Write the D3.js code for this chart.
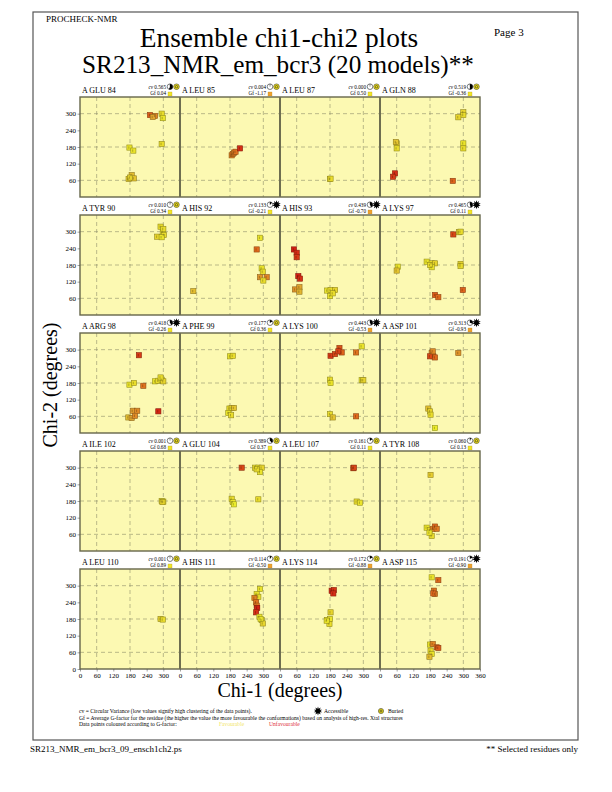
<!DOCTYPE html>
<html><head><meta charset="utf-8">
<script src="https://cdn.jsdelivr.net/npm/d3@7"></script>
<style>body{margin:0;background:#fff}svg{display:block}</style>
</head><body><svg id="c" width="612" height="792" font-family="Liberation Serif"></svg>
<script>
// ---- data ----
const residues = ["A GLU 84","A LEU 85","A LEU 87","A GLN 88",
  "A TYR 90","A HIS 92","A HIS 93","A LYS 97",
  "A ARG 98","A PHE 99","A LYS 100","A ASP 101",
  "A ILE 102","A GLU 104","A LEU 107","A TYR 108",
  "A LEU 110","A HIS 111","A LYS 114","A ASP 115"];
const cvValues = [0.565,0.004,0.000,0.519, 0.010,0.133,0.439,0.465, 0.418,0.177,0.443,0.313, 0.001,0.389,0.161,0.060, 0.001,0.114,0.172,0.191];
const gfValues = [0.04,-1.17,0.50,-0.36, 0.34,-0.21,-0.70,0.11, -0.26,0.36,-0.53,-0.93, 0.68,0.37,0.11,0.13, 0.89,-0.50,-0.88,-0.90];
const accessible = [false,false,false,false, false,true,true,true, true,false,true,true, false,false,false,false, false,false,false,true];
// points per residue: [chi1, chi2, G-factor of the point]
const points = [
 [[252,295,-1.5],[270,292,-1.0],[262,288,-0.6],[294,300,0.1],[298,284,0.2],[294,191,0.1],[178,178,0.2],[192,167,0.2],[175,65,-0.1],[186,79,-0.3],[194,67,-0.2],[180,70,0.0]],
 [[186,150,-1.0],[190,155,-1.1],[195,160,-1.0],[200,163,-1.2],[216,175,-2.2]],
 [[180,65,0.0],[182,66,0.1]],
 [[60,193,0.0],[57,198,-0.2],[60,175,0.1],[54,85,-2.2],[47,73,-2.0],[262,58,-1.4],[300,305,0.0],[300,295,0.1],[282,287,0.0],[300,193,0.2],[300,175,0.1]],
 [[290,318,0.1],[298,300,0.2],[302,288,0.1],[278,282,0.0],[294,280,0.2],[300,310,0.1]],
 [[48,86,-0.3],[288,278,0.2],[276,236,-1.3],[294,168,0.2],[298,156,0.1],[288,136,-0.8],[312,136,-1.0],[300,124,0.1]],
 [[50,236,-2.4],[60,224,-2.2],[60,208,-2.0],[66,140,-2.4],[72,131,-2.2],[54,92,-0.8],[70,100,-0.6],[70,84,-0.4],[170,88,0.2],[182,90,0.1],[198,90,0.0],[180,68,0.2],[190,78,0.1]],
 [[64,174,0.2],[60,160,-0.2],[168,192,0.2],[186,186,0.1],[198,186,0.0],[186,172,0.2],[180,180,0.1],[290,184,0.0],[290,176,0.1],[264,290,-1.8],[284,298,0.0],[290,300,0.1],[198,72,-1.5],[210,64,-1.3],[298,90,-1.4]],
 [[212,280,-2.0],[178,174,0.2],[194,180,0.1],[228,170,-1.2],[270,186,0.2],[282,188,0.1],[294,192,0.2],[300,186,0.0],[290,200,0.1],[190,80,-0.7],[206,80,-0.9],[174,56,-0.3],[186,54,-0.6],[198,62,-0.9],[282,78,-2.3]],
 [[180,276,0.2],[190,278,0.1],[178,88,0.1],[186,90,0.0],[194,90,-0.2],[174,72,0.2],[184,64,0.1]],
 [[180,192,0.1],[182,180,0.2],[180,68,0.1],[190,56,-0.2],[274,60,-1.3],[294,190,0.2],[300,190,0.0],[294,312,0.2],[182,278,-2.0],[198,284,-1.8],[214,306,-1.6],[222,290,-1.4],[210,294,-1.9],[274,290,-1.2]],
 [[186,288,-1.0],[192,276,-1.4],[180,276,-1.8],[198,272,-1.3],[190,294,-0.9],[282,288,-0.8],[174,88,-0.2],[180,78,0.0],[182,66,0.1],[198,18,0.3]],
 [[294,180,0.1],[300,178,0.2],[297,176,0.0]],
 [[222,300,-1.8],[270,300,0.1],[282,300,0.2],[294,300,0.0],[288,284,0.2],[276,294,0.1],[186,188,0.1],[190,176,0.2],[194,168,0.3],[282,186,0.1]],
 [[264,298,-1.5],[266,300,-1.8],[276,178,0.1],[288,174,0.2]],
 [[182,274,-0.1],[168,84,0.2],[180,76,0.1],[190,80,-1.0],[198,88,-1.3],[204,80,-1.1],[186,54,0.1],[178,66,0.2]],
 [[290,180,0.0],[298,178,0.1]],
 [[288,288,0.2],[276,270,0.2],[282,260,0.1],[268,256,-1.0],[274,240,-1.2],[276,228,-1.1],[278,220,-2.4],[274,204,-2.2],[286,188,0.2],[294,176,0.1],[298,164,0.0],[290,180,0.2]],
 [[186,282,-2.3],[194,284,-2.1],[192,272,-2.2],[182,204,0.0],[170,176,0.1],[180,180,0.2],[178,162,0.1],[168,174,0.2]],
 [[186,330,0.2],[210,320,-1.3],[194,282,-1.2],[198,270,-1.0],[192,272,-1.3],[180,88,0.2],[190,90,-1.0],[204,78,-1.3],[210,76,-1.5],[182,66,0.1],[186,54,0.2],[178,44,-0.3]]
];
const tickValsY = [60,120,180,240,300];
const tickValsX = [0,60,120,180,240,300];
const gridVals = [60,180,300];

// ---- layout ----
const FONT = "Liberation Serif";
const svg = d3.select("#c");
const ncol = 4, panelW = 100, panelH = 100, left0 = 80, top0 = 97, rowStep = 118;
const x = d3.scaleLinear().domain([0,360]).range([0,panelW]);
const y = d3.scaleLinear().domain([0,360]).range([panelH,0]);
const ptColor = d3.scaleLinear().domain([-2.5,-1.3,-0.5,0.3]).range(["#d41a12","#e06a1c","#e2ae32","#ecec2a"]).clamp(true);
const gfColor = d3.scaleThreshold().domain([-0.45]).range(["#f0a030","#f0e628"]);
const nrow = Math.ceil(residues.length/ncol);

// outer border
svg.append("rect").attr("x",33).attr("y",12).attr("width",545).attr("height",728)
  .attr("fill","none").attr("stroke","#555").attr("stroke-width",1.2);

svg.append("text").attr("x",46).attr("y",22).attr("font-size",9).text("PROCHECK-NMR");
svg.append("text").attr("x",494).attr("y",36).attr("font-size",11).text("Page  3");
svg.append("text").attr("x",279).attr("y",47).attr("text-anchor","middle").attr("font-size",27.4).text("Ensemble chi1-chi2 plots");
svg.append("text").attr("x",278).attr("y",73).attr("text-anchor","middle").attr("font-size",25.2).text("SR213_NMR_em_bcr3 (20 models)**");

for (let r=0;r<nrow;r++){
  const ty = top0 + r*rowStep;
  svg.append("rect").attr("x",left0).attr("y",ty).attr("width",panelW*ncol).attr("height",panelH).attr("fill","#fcf9b2");
  for (let c=0;c<ncol;c++){
    const i = r*ncol+c; if (i>=residues.length) continue;
    const g = svg.append("g").attr("transform",`translate(${left0+c*panelW},${ty})`);
    g.selectAll("line.gv").data(gridVals).join("line").attr("x1",d=>x(d)).attr("x2",d=>x(d)).attr("y1",0).attr("y2",panelH)
      .attr("stroke","#8f8f6a").attr("stroke-width",0.6).attr("stroke-dasharray","4,3");
    g.selectAll("line.gh").data(gridVals).join("line").attr("y1",d=>y(d)).attr("y2",d=>y(d)).attr("x1",0).attr("x2",panelW)
      .attr("stroke","#8f8f6a").attr("stroke-width",0.6).attr("stroke-dasharray","4,3");
    g.selectAll("rect.p").data(points[i]).join("rect")
      .attr("x",d=>x(d[0])-2.6).attr("y",d=>y(d[1])-2.6).attr("width",5.2).attr("height",5.2)
      .attr("fill",d=>ptColor(d[2])).attr("stroke",d=>d3.color(ptColor(d[2])).darker(1.3)).attr("stroke-width",0.6);
    g.selectAll("path.pm").data(points[i]).join("path")
      .attr("d",d=>`M${x(d[0])-0.6},${y(d[1])-1.2}v2.4`).attr("stroke",d=>d3.color(ptColor(d[2])).darker(2)).attr("stroke-width",0.5);
    g.append("text").attr("x",2).attr("y",-4).attr("font-size",8).text(residues[i]);
    g.append("text").attr("x",86).attr("y",-8.5).attr("text-anchor","end").attr("font-size",5.2).attr("font-style","italic").text("cv ").append("tspan").attr("font-style","normal").text(cvValues[i].toFixed(3));
    g.append("text").attr("x",86).attr("y",-1.8).attr("text-anchor","end").attr("font-size",5.2).text("Gf "+gfValues[i].toFixed(2));
    const pc = g.append("g").attr("transform","translate(90,-10.3)");
    pc.append("circle").attr("r",2.8).attr("fill","#fff").attr("stroke","#000").attr("stroke-width",0.5);
    pc.append("path").attr("d",d3.arc().innerRadius(0).outerRadius(2.8)({startAngle:0,endAngle:cvValues[i]*2*Math.PI})).attr("fill","#000");
    pc.append("line").attr("x1",0).attr("y1",0).attr("x2",0).attr("y2",-2.8).attr("stroke","#000").attr("stroke-width",0.4);
    const ac = g.append("g").attr("transform","translate(96.5,-10.3)");
    if (accessible[i]) {
      ac.append("path").attr("d",d3.symbol(d3.symbolStar,22)()).attr("fill","#000");
      ac.append("path").attr("d",d3.symbol(d3.symbolStar,22)()).attr("fill","#000").attr("transform","rotate(36)");
    } else {
      ac.append("circle").attr("r",2.8).attr("fill","#f2e21a").attr("stroke","#222").attr("stroke-width",0.5);
      ac.append("circle").attr("r",1.2).attr("fill","none").attr("stroke","#222").attr("stroke-width",0.6);
    }
    g.append("rect").attr("x",88).attr("y",-5).attr("width",4).attr("height",4).attr("fill",gfColor(gfValues[i])).attr("stroke","#b08a20").attr("stroke-width",0.3);
  }
  svg.append("rect").attr("x",left0).attr("y",ty).attr("width",panelW*ncol).attr("height",panelH)
    .attr("fill","none").attr("stroke","#66664a").attr("stroke-width",1.4);
  for (let c=1;c<ncol;c++){
    svg.append("line").attr("x1",left0+c*panelW).attr("x2",left0+c*panelW).attr("y1",ty).attr("y2",ty+panelH)
      .attr("stroke","#6e6e50").attr("stroke-width",2);
  }
  const ya = d3.axisLeft(y).tickValues(r===nrow-1?[0].concat(tickValsY):tickValsY).tickSize(2.5).tickPadding(1.5).tickFormat(d3.format("d"));
  const yg = svg.append("g").attr("transform",`translate(${left0},${ty})`).call(ya).attr("font-family",FONT);
  yg.select(".domain").remove();
  yg.selectAll("text").attr("font-size",7);
  yg.selectAll("line").attr("stroke","#444").attr("stroke-width",0.5);
}
const by = top0 + (nrow-1)*rowStep + panelH;
for (let c=0;c<ncol;c++){
  const xa = d3.axisBottom(x).tickValues(c===ncol-1?tickValsX.concat([360]):tickValsX).tickSize(2.5).tickPadding(2).tickFormat(d3.format("d"));
  const xg = svg.append("g").attr("transform",`translate(${left0+c*panelW},${by})`).call(xa).attr("font-family",FONT);
  xg.select(".domain").remove();
  xg.selectAll("text").attr("font-size",7);
  xg.selectAll("line").attr("stroke","#444").attr("stroke-width",0.5);
}
svg.append("text").attr("x",280).attr("y",697).attr("text-anchor","middle").attr("font-size",20).text("Chi-1 (degrees)");
svg.append("text").attr("transform","translate(57,385) rotate(-90)").attr("text-anchor","middle").attr("font-size",20).text("Chi-2 (degrees)");

const lg = svg.append("g").attr("font-size",5.6);
lg.append("text").attr("x",79).attr("y",713).text("cv = Circular Variance (low values signify high clustering of the data points).");
lg.append("text").attr("x",79).attr("y",719.5).text("Gf = Average G-factor for the residue (the higher the value the more favourable the conformations) based on analysis of high-res. Xtal structures");
lg.append("text").attr("x",79).attr("y",726).text("Data points coloured according to G-factor:");
lg.append("text").attr("x",219).attr("y",726).attr("fill","#f2e66a").text("Favourable");
lg.append("text").attr("x",269).attr("y",726).attr("fill","#e0303a").text("Unfavourable");
const la = lg.append("g").attr("transform","translate(318,711)");
la.append("path").attr("d",d3.symbol(d3.symbolStar,22)()).attr("fill","#000");
la.append("path").attr("d",d3.symbol(d3.symbolStar,22)()).attr("fill","#000").attr("transform","rotate(36)");
lg.append("text").attr("x",324).attr("y",713).text("Accessible");
const lb = lg.append("g").attr("transform","translate(381,711)");
lb.append("circle").attr("r",2.6).attr("fill","#f2e21a").attr("stroke","#222").attr("stroke-width",0.5);
lb.append("circle").attr("r",1.1).attr("fill","none").attr("stroke","#222").attr("stroke-width",0.6);
lg.append("text").attr("x",388).attr("y",713).text("Buried");

svg.append("text").attr("x",30).attr("y",752).attr("font-size",9).text("SR213_NMR_em_bcr3_09_ensch1ch2.ps");
svg.append("text").attr("x",578).attr("y",752).attr("text-anchor","end").attr("font-size",9).text("** Selected residues only");
</script></body></html>
